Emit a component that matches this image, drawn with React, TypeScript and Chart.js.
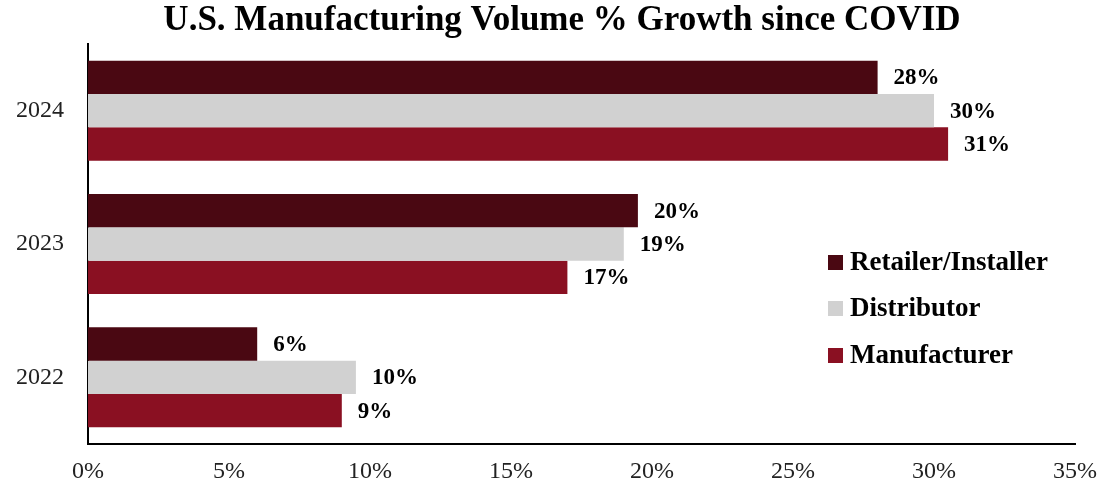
import React, { useEffect, useRef } from "react";
import { Chart, registerables } from "chart.js";

Chart.register(...registerables);

const TITLE = "U.S. Manufacturing Volume % Growth since COVID";
const categories = ["2024", "2023", "2022"];
const seriesNames = ["Retailer/Installer", "Distributor", "Manufacturer"];
const retailer = [28, 19.5, 6];
const distributor = [30, 19, 9.5];
const manufacturer = [30.5, 17, 9];
const colors = ["#4a0812", "#d1d1d1", "#8a1022"];
const xTicks = [0, 5, 10, 15, 20, 25, 30, 35];

const FONT = "'Liberation Serif', 'DejaVu Serif', serif";

export default function App() {
  const ref = useRef<HTMLCanvasElement | null>(null);

  useEffect(() => {
    document.body.style.margin = "0";
    const canvas = ref.current;
    if (!canvas) return;

    const overlay = {
      id: "overlay",
      afterDatasetsDraw(chart: any) {
        const ctx = chart.ctx;
        ctx.save();
        ctx.fillStyle = "#000";
        ctx.font = `bold 23px ${FONT}`;
        ctx.textBaseline = "middle";
        ctx.textAlign = "left";
        chart.data.datasets.forEach((ds: any, i: number) => {
          const meta = chart.getDatasetMeta(i);
          meta.data.forEach((bar: any, j: number) => {
            ctx.fillText(Math.round(ds.data[j]) + "%", bar.x + 16, bar.y + 1);
          });
        });
        ctx.restore();
      },
      afterDraw(chart: any) {
        const ctx = chart.ctx;
        ctx.save();
        // title
        ctx.fillStyle = "#000";
        ctx.font = `bold 35px ${FONT}`;
        ctx.textAlign = "center";
        ctx.textBaseline = "middle";
        ctx.fillText(TITLE, 562, 21);
        // legend
        const ys = [262, 308, 355];
        ctx.textAlign = "left";
        ctx.font = `bold 27px ${FONT}`;
        seriesNames.forEach((name, i) => {
          ctx.fillStyle = colors[i];
          ctx.fillRect(828, ys[i] - 7, 15, 15);
          ctx.fillStyle = "#000";
          ctx.fillText(name, 850, ys[i] + 1);
        });
        ctx.restore();
      },
    };

    const chart = new Chart(canvas, {
      type: "bar",
      data: {
        labels: categories,
        datasets: [
          { label: seriesNames[0], data: retailer, backgroundColor: colors[0] },
          { label: seriesNames[1], data: distributor, backgroundColor: colors[1] },
          { label: seriesNames[2], data: manufacturer, backgroundColor: colors[2] },
        ],
      },
      options: {
        indexAxis: "y",
        animation: false,
        responsive: false,
        maintainAspectRatio: false,
        layout: { padding: { top: 44, right: 0, left: 0, bottom: 0 } },
        datasets: { bar: { categoryPercentage: 0.75, barPercentage: 1.0 } },
        plugins: {
          legend: { display: false },
          title: { display: false },
          tooltip: { enabled: false },
        },
        scales: {
          x: {
            min: 0,
            max: 35,
            afterBuildTicks: (s: any) => {
              s.ticks = xTicks.map((v) => ({ value: v }));
            },
            afterFit: (s: any) => {
              s.height = 45;
              s.paddingRight = 24;
            },
            grid: { display: false, drawTicks: false, tickLength: 0 },
            border: { display: true, color: "#000", width: 2 },
            ticks: {
              padding: 13,
              color: "#222",
              font: { family: FONT, size: 24 },
              maxRotation: 0,
              callback: (v: any) => v + "%",
            },
          },
          y: {
            afterFit: (s: any) => {
              s.width = 88;
            },
            grid: { display: false, drawTicks: false, tickLength: 0 },
            border: { display: true, color: "#000", width: 2 },
            ticks: {
              padding: 24,
              color: "#222",
              font: { family: FONT, size: 24 },
            },
          },
        },
      },
      plugins: [overlay],
    });
    return () => chart.destroy();
  }, []);

  return (
    <div style={{ position: "absolute", left: 0, top: 0, width: 1099, height: 489 }}>
      <canvas ref={ref} width={1099} height={489} style={{ width: 1099, height: 489 }} />
    </div>
  );
}
